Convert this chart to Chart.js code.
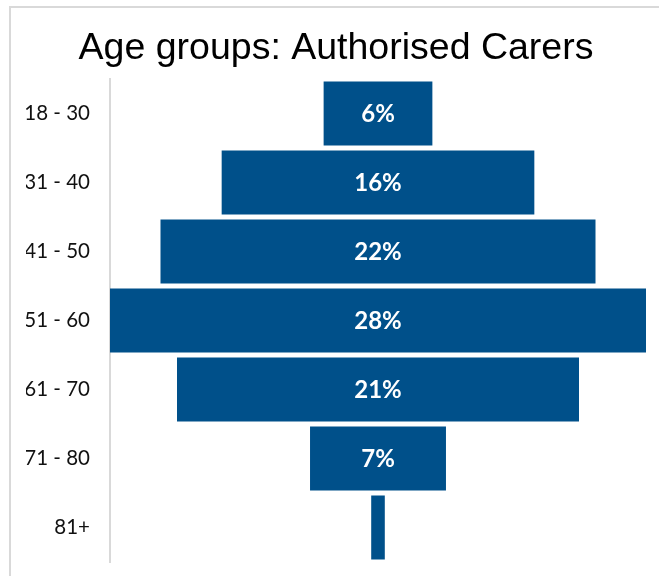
<!DOCTYPE html>
<html>
<head>
<meta charset="utf-8">
<script src="https://cdn.jsdelivr.net/npm/chart.js@4"></script>
<style>
  body { margin: 0; background: #fff; overflow: hidden; }
  #frame { position: absolute; left: 9px; top: 6px; width: 680px; height: 620px; border: 2px solid #d9d9d9; }
  #chart { position: absolute; left: 0; top: 0; }
</style>
</head>
<body>
<div id="frame"></div>
<canvas id="chart" width="659" height="576"></canvas>
<script>
// age bands and share of authorised carers (%)
const ageGroups = ["18 - 30", "31 - 40", "41 - 50", "51 - 60", "61 - 70", "71 - 80", "81+"];
const carerShare = [5.6, 16.1, 22.4, 27.6, 20.7, 7.0, 0.7];
const axisHalf = 13.8;

// writes the rounded percentage inside each bar wide enough to hold it
const barLabels = {
  id: "barLabels",
  afterDatasetsDraw(chart) {
    const ctx = chart.ctx;
    const meta = chart.getDatasetMeta(0);
    ctx.save();
    ctx.font = "bold 24px Lato";
    ctx.fillStyle = "#ffffff";
    ctx.textAlign = "center";
    ctx.textBaseline = "middle";
    meta.data.forEach((bar, i) => {
      const w = Math.abs(bar.x - bar.base);
      if (w < 40) return;
      const c = bar.getCenterPoint();
      ctx.fillText(Math.round(carerShare[i]) + "%", c.x, c.y + 1);
    });
    ctx.restore();
  }
};

new Chart(document.getElementById("chart").getContext("2d"), {
  type: "bar",
  data: {
    labels: ageGroups,
    datasets: [
      {
        label: "Authorised Carers",
        data: carerShare.map(v => [-v / 2, v / 2]),
        backgroundColor: "#00508a",
        borderWidth: 0,
        barPercentage: 0.93,
        categoryPercentage: 1
      }
    ]
  },
  options: {
    indexAxis: "y",
    responsive: false,
    animation: false,
    layout: {
      padding: { top: 0, left: 26, right: 13, bottom: 14 }
    },
    plugins: {
      legend: { display: false },
      tooltip: { enabled: false },
      title: {
        display: true,
        text: "Age groups: Authorised Carers",
        color: "#000000",
        font: { family: "Liberation Sans", size: 37.5, weight: "normal" },
        padding: { top: 26, bottom: 8 }
      }
    },
    scales: {
      x: {
        display: false,
        min: -axisHalf,
        max: axisHalf
      },
      y: {
        afterFit(scale) {
          scale.width = 84;
          scale.paddingTop = 0;
          scale.paddingBottom = 0;
        },
        grid: { display: false, drawTicks: false },
        border: { display: true, color: "#d9d9d9", width: 2 },
        ticks: {
          color: "#111111",
          padding: 20,
          font: { family: "Lato", size: 20.5 }
        }
      }
    }
  },
  plugins: [barLabels]
});
</script>
</body>
</html>
